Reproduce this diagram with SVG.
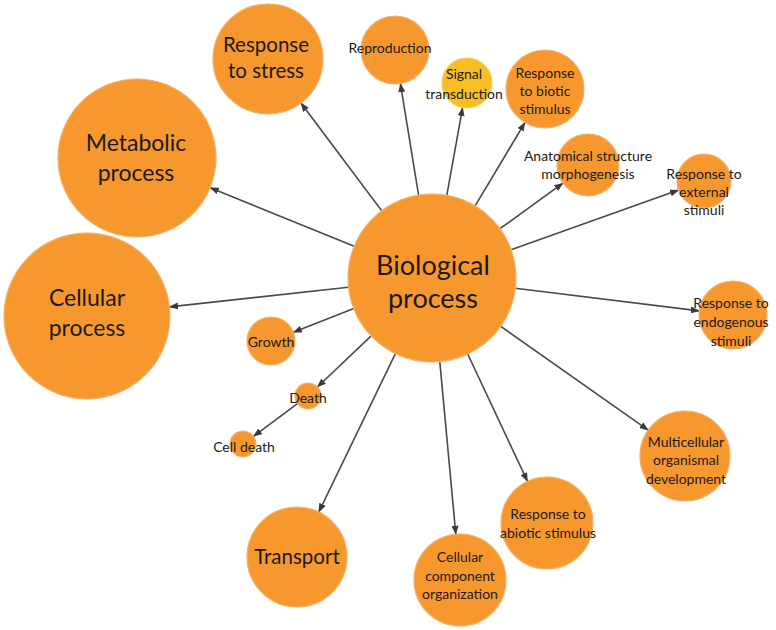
<svg xmlns="http://www.w3.org/2000/svg" width="776" height="630" viewBox="0 0 776 630">
<defs>
<style>
.n{fill:#F7982F;stroke:#F4B06A;stroke-width:1.2}
.y{fill:#F8BE24;stroke:#F2CE5E;stroke-width:1.2}
text{font-family:Lato,"Open Sans","Liberation Sans",sans-serif;fill:#1c1a17;text-anchor:middle;dominant-baseline:central}
.s{font-size:14px}
.m{font-size:20.5px}
.t{font-size:20.5px}
.l{font-size:23px}
.xl{font-size:27px}
.e{stroke:#4a4a4a;stroke-width:1.6;fill:none;marker-end:url(#ah)}
</style>
<marker id="ah" markerWidth="9" markerHeight="7" refX="8.5" refY="3.5" orient="auto" markerUnits="userSpaceOnUse">
<path d="M0,0 L9,3.5 L0,7 Z" fill="#3a3a3a"/>
</marker>
</defs>
<rect width="776" height="630" fill="#ffffff"/>
<g id="connectors">
<line class="e" x1="354.2" y1="246.3" x2="210.2" y2="187.8"/>
<line class="e" x1="348.5" y1="287.2" x2="169.5" y2="306.9"/>
<line class="e" x1="381.7" y1="210.8" x2="300.9" y2="103"/>
<line class="e" x1="418.6" y1="195.1" x2="400.4" y2="83.6"/>
<line class="e" x1="446.8" y1="195.3" x2="462.6" y2="107.6"/>
<line class="e" x1="475.1" y1="205.9" x2="525" y2="122.5"/>
<line class="e" x1="500" y1="228.7" x2="562.9" y2="183.2"/>
<line class="e" x1="511.1" y1="249.8" x2="678.6" y2="190.1"/>
<line class="e" x1="515.4" y1="288.2" x2="699.3" y2="310.9"/>
<line class="e" x1="500.7" y1="326.3" x2="648.2" y2="430.1"/>
<line class="e" x1="467.7" y1="354" x2="527.5" y2="481.4"/>
<line class="e" x1="439.8" y1="361.6" x2="455.8" y2="534.2"/>
<line class="e" x1="395.4" y1="353.6" x2="318.8" y2="512"/>
<line class="e" x1="353.8" y1="308.6" x2="293.3" y2="332.3"/>
<line class="e" x1="371.2" y1="335.9" x2="317.4" y2="387"/>
<line class="e" x1="297.5" y1="403.7" x2="253.5" y2="436.3"/>
</g>
<g id="biological-process"><circle class="n" cx="432" cy="278" r="84"/><text class="xl" x="433" y="264">Biological</text><text class="xl" x="433" y="297">process</text></g>
<g id="metabolic-process"><circle class="n" cx="137" cy="158" r="79"/><text class="l" x="136" y="142">Metabolic</text><text class="l" x="136" y="172">process</text></g>
<g id="cellular-process"><circle class="n" cx="87" cy="316" r="83"/><text class="l" x="87" y="297">Cellular</text><text class="l" x="87" y="327">process</text></g>
<g id="response-to-stress"><circle class="n" cx="268" cy="59" r="55"/><text class="m" x="266" y="44">Response</text><text class="m" x="266" y="70">to stress</text></g>
<g id="reproduction"><circle class="n" cx="395" cy="50" r="34"/><text class="s" x="390" y="47">Reproduction</text></g>
<g id="signal-transduction"><circle class="y" cx="467" cy="83" r="25"/><text class="s" x="464" y="73">Signal</text><text class="s" x="464" y="93">transduction</text></g>
<g id="response-to-biotic-stimulus"><circle class="n" cx="545" cy="89" r="39"/><text class="s" x="545" y="72">Response</text><text class="s" x="545" y="90">to biotic</text><text class="s" x="545" y="108">stimulus</text></g>
<g id="anatomical-structure-morphogenesis"><circle class="n" cx="588" cy="165" r="31"/><text class="s" x="588" y="155">Anatomical structure</text><text class="s" x="588" y="173">morphogenesis</text></g>
<g id="response-to-external-stimuli"><circle class="n" cx="704" cy="181" r="27"/><text class="s" x="704" y="173">Response to</text><text class="s" x="704" y="191">external</text><text class="s" x="704" y="209">stimuli</text></g>
<g id="response-to-endogenous-stimuli"><circle class="n" cx="733" cy="315" r="34"/><text class="s" x="731" y="302">Response to</text><text class="s" x="731" y="321">endogenous</text><text class="s" x="731" y="340">stimuli</text></g>
<g id="multicellular-organismal-development"><circle class="n" cx="685" cy="456" r="45"/><text class="s" x="686" y="441">Multicellular</text><text class="s" x="686" y="459">organismal</text><text class="s" x="686" y="478">development</text></g>
<g id="response-to-abiotic-stimulus"><circle class="n" cx="547" cy="523" r="46"/><text class="s" x="548" y="513">Response to</text><text class="s" x="548" y="532">abiotic stimulus</text></g>
<g id="cellular-component-organization"><circle class="n" cx="460" cy="580" r="46"/><text class="s" x="460" y="556">Cellular</text><text class="s" x="460" y="575">component</text><text class="s" x="460" y="593">organization</text></g>
<g id="transport"><circle class="n" cx="297" cy="557" r="50"/><text class="t" x="297" y="556">Transport</text></g>
<g id="growth"><circle class="n" cx="271" cy="341" r="24"/><text class="s" x="271" y="341">Growth</text></g>
<g id="death"><circle class="n" cx="308" cy="396" r="13"/><text class="s" x="308" y="397">Death</text></g>
<g id="cell-death"><circle class="n" cx="243" cy="444" r="13"/><text class="s" x="244" y="446">Cell death</text></g>
</svg>
